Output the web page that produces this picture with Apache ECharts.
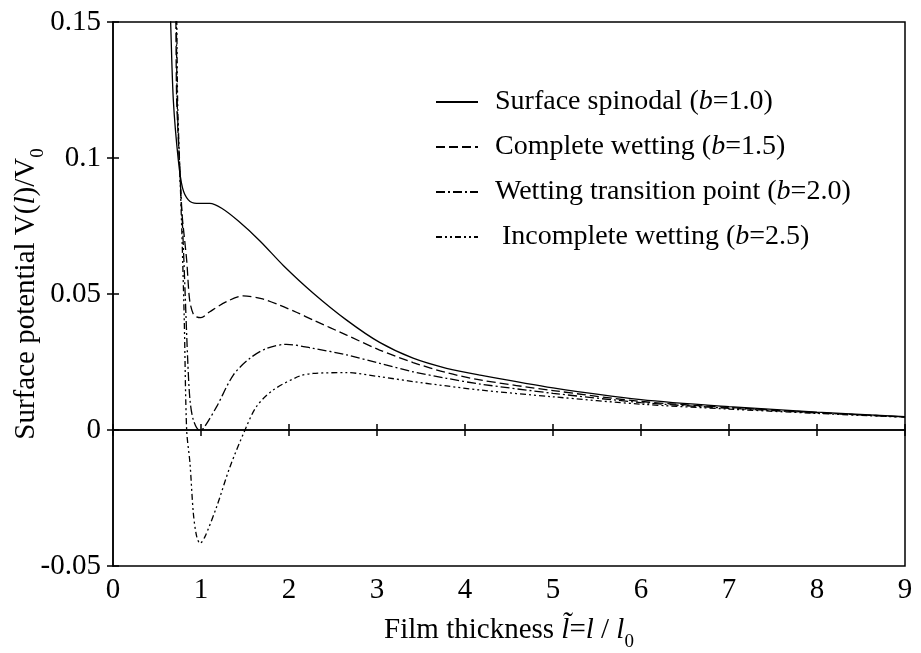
<!DOCTYPE html>
<html>
<head>
<meta charset="utf-8">
<script src="https://cdn.jsdelivr.net/npm/echarts@6/dist/echarts.min.js"></script>
<style>
  html, body { margin: 0; padding: 0; background: #fff; }
  #chart { width: 921px; height: 653px; }
</style>
</head>
<body>
<div id="chart"></div>
<script>
// values, [l/l0, V/V0]
var spinodal = [
  [0.64, 0.165], [0.655, 0.15], [0.686, 0.121], [0.742, 0.0993], [0.79, 0.089],
  [0.856, 0.0846], [0.95, 0.0833], [1.1, 0.0833], [1.235, 0.0815], [1.425, 0.0768],
  [1.67, 0.0695], [1.935, 0.0605], [2.276, 0.0503], [2.655, 0.0404], [3.03, 0.0322],
  [3.41, 0.0264], [3.79, 0.0227], [4.17, 0.0202], [5, 0.0155], [6, 0.0112],
  [7, 0.0086], [8, 0.0066], [9, 0.0049]
];
var complete = [
  [0.71, 0.165], [0.715, 0.15], [0.724, 0.121], [0.76, 0.0956], [0.78, 0.081],
  [0.837, 0.0625], [0.87, 0.048], [0.91, 0.0428], [0.95, 0.0416], [1.0, 0.0413],
  [1.1, 0.0435], [1.29, 0.0472], [1.48, 0.0493], [1.7, 0.0482], [1.9, 0.0458],
  [2.09, 0.0432], [2.276, 0.0404], [2.655, 0.0349], [3.03, 0.0294], [3.41, 0.0248],
  [3.79, 0.0211], [4.17, 0.0184], [5, 0.0145], [6, 0.0105], [7, 0.0083],
  [8, 0.0064], [9, 0.0048]
];
var transition = [
  [0.715, 0.165], [0.72, 0.15], [0.73, 0.12], [0.76, 0.095], [0.79, 0.075],
  [0.82, 0.05], [0.85, 0.025], [0.875, 0.011], [0.913, 0.0037], [0.98, 0.0],
  [1.027, 0.0006], [1.178, 0.0086], [1.367, 0.0202], [1.557, 0.0264], [1.747, 0.030],
  [1.97, 0.0315], [2.276, 0.030], [2.655, 0.0276], [3.03, 0.0245], [3.41, 0.0214],
  [3.79, 0.019], [4.17, 0.0169], [5, 0.0135], [6, 0.0101], [7, 0.008],
  [8, 0.0063], [9, 0.0048]
];
var incomplete = [
  [0.72, 0.165], [0.725, 0.15], [0.735, 0.12], [0.76, 0.095], [0.785, 0.07],
  [0.81, 0.04], [0.837, 0.0], [0.875, -0.0123], [0.913, -0.0306], [0.95, -0.039],
  [0.989, -0.0417], [1.045, -0.0392], [1.178, -0.0282], [1.33, -0.0135], [1.5, 0.0],
  [1.63, 0.0086], [1.82, 0.0147], [2.125, 0.0199], [2.276, 0.0208], [2.655, 0.0211],
  [3.03, 0.0196], [3.41, 0.0178], [3.79, 0.0162], [4.17, 0.0147], [5, 0.0122],
  [6, 0.0095], [7, 0.0077], [8, 0.0061], [9, 0.0047]
];
var names = ['Surface spinodal', 'Complete wetting', 'Wetting transition point', 'Incomplete wetting'];
var bValues = ['1.0', '1.5', '2.0', '2.5'];
var dashes = ['solid', [9, 4], [9, 3, 2, 3], [6, 3, 2, 3, 2, 3]];

var font = "'Liberation Serif', 'Times New Roman', serif";
var fs = 29;
var myChart = echarts.init(document.getElementById('chart'));

var allData = [spinodal, complete, transition, incomplete];
var series = allData.map(function (d, i) {
  var s = {
    name: names[i],
    type: 'line',
    data: d,
    smooth: 0.3,
    showSymbol: false,
    symbol: 'none',
    clip: true,
    lineStyle: { color: '#000', width: 1.3, type: dashes[i] },
    itemStyle: { color: '#000' }
  };
  if (i === 0) {
    s.markLine = {
      silent: true,
      symbol: 'none',
      label: { show: false },
      lineStyle: { color: '#000', width: 1.5, type: 'solid' },
      data: [{ yAxis: 0 }]
    };
  }
  return s;
});

var richText = {
  i: { fontFamily: font, fontSize: fs, fontStyle: 'italic', color: '#000' },
  sub: { fontFamily: font, fontSize: 19, color: '#000', verticalAlign: 'bottom', padding: [0, 0, -7, 0] }
};

var option = {
  animation: false,
  grid: {
    left: 113, right: 16, top: 22, bottom: 87,
    outerBoundsMode: 'none',
    containLabel: false,
    show: true, borderColor: '#000', borderWidth: 1.5
  },
  legend: {
    orient: 'vertical',
    left: 430,
    top: 83,
    itemWidth: 42,
    itemHeight: 14,
    itemGap: 17,
    data: names,
    itemStyle: { opacity: 0 },
    formatter: function (n) {
      var i = names.indexOf(n);
      return (i === 3 ? ' ' : '') + n + ' ({i|b}=' + bValues[i] + ')';
    },
    textStyle: {
      fontFamily: font, fontSize: 28, color: '#000', padding: [0, 0, 0, 12],
      rich: { i: { fontFamily: font, fontSize: 28, fontStyle: 'italic', color: '#000' } }
    }
  },
  // y axis title drawn as rotated text beside the axis
  graphic: [{
    type: 'text',
    x: 26,
    y: 294,
    rotation: Math.PI / 2,
    style: {
      text: 'Surface potential V({i|l})/V{sub|0}',
      fontFamily: font,
      fontSize: fs,
      fill: '#000',
      align: 'center',
      verticalAlign: 'middle',
      rich: richText
    }
  }],
  xAxis: [{
    type: 'value',
    min: 0, max: 9, interval: 1,
    name: 'Film thickness {i|l\u0303}={i|l} / {i|l}{sub|0}',
    nameLocation: 'middle',
    nameGap: 50,
    nameTextStyle: { fontFamily: font, fontSize: fs, color: '#000', rich: richText },
    axisLine: { show: true, lineStyle: { color: '#000', width: 1.5 } },
    axisTick: { inside: true, length: 6, lineStyle: { color: '#000', width: 1.5 } },
    axisLabel: { fontFamily: font, fontSize: fs, color: '#000', margin: 10 },
    splitLine: { show: false }
  }, {
    type: 'value', position: 'top',
    min: 0, max: 9, interval: 1,
    axisLine: { show: false },
    axisTick: { inside: true, length: 6, lineStyle: { color: '#000', width: 1.5 } },
    axisLabel: { show: false },
    splitLine: { show: false }
  }],
  yAxis: [{
    type: 'value',
    min: -0.05, max: 0.15, interval: 0.05,
    axisLine: { show: true, lineStyle: { color: '#000', width: 1.5 } },
    axisTick: { inside: true, length: 6, lineStyle: { color: '#000', width: 1.5 } },
    axisLabel: { fontFamily: font, fontSize: fs, color: '#000', margin: 12 },
    splitLine: { show: false }
  }, {
    type: 'value', position: 'right',
    min: -0.05, max: 0.15, interval: 0.05,
    axisLine: { show: false },
    axisTick: { inside: true, length: 6, lineStyle: { color: '#000', width: 1.5 } },
    axisLabel: { show: false },
    splitLine: { show: false }
  }],
  series: series
};
myChart.setOption(option);
window.addEventListener('resize', function () {
  myChart.resize();
});
</script>
</body>
</html>
